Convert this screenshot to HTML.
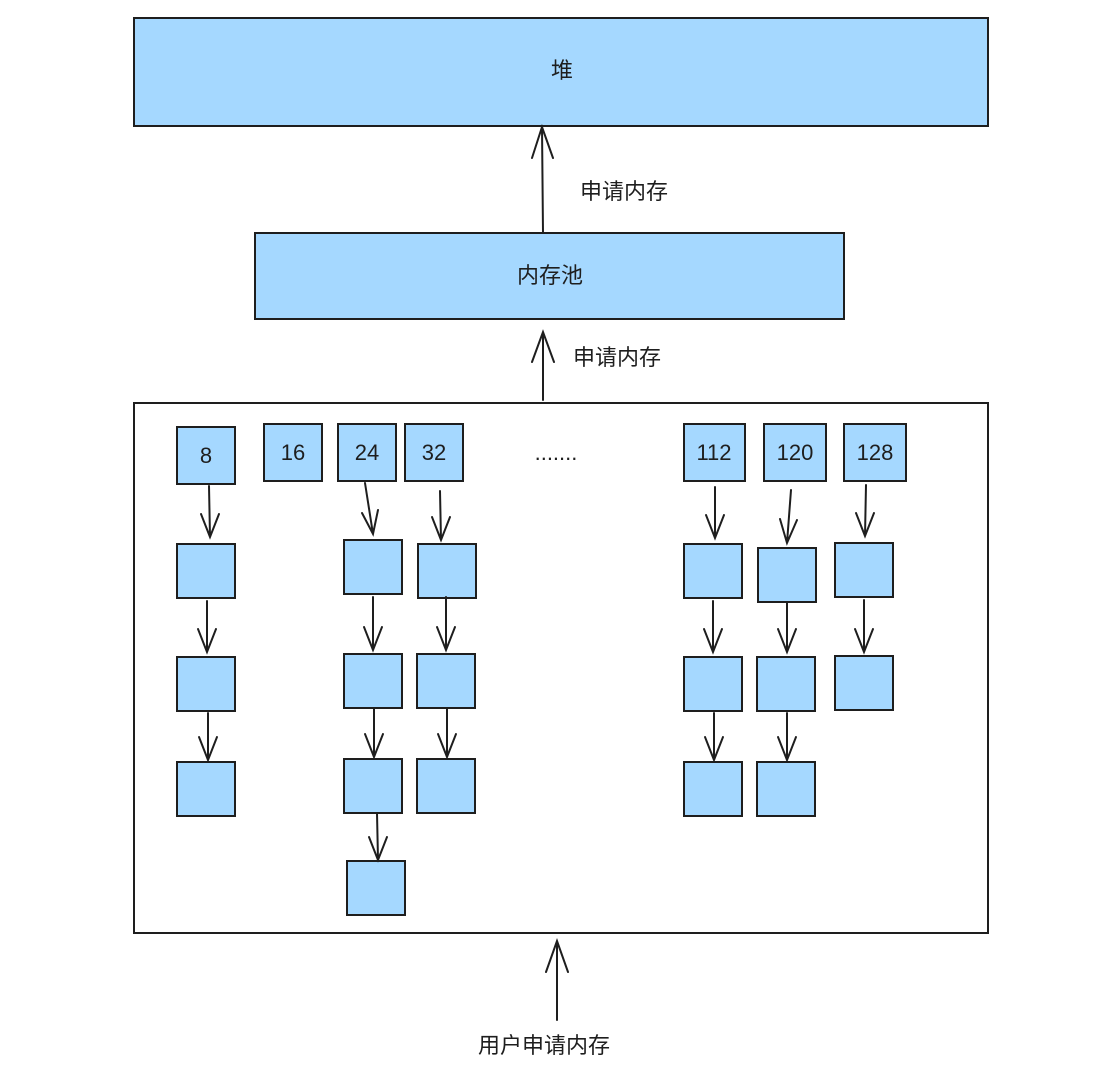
<!DOCTYPE html>
<html><head><meta charset="utf-8"><style>
html,body{margin:0;padding:0;background:#fff;}
svg{display:block;}
text{font-family:"Liberation Sans","Noto Sans CJK SC",sans-serif;fill:#1e1e1e;}
</style></head><body>
<svg width="1110" height="1078" viewBox="0 0 1110 1078" xmlns="http://www.w3.org/2000/svg">
<g stroke="#1e1e1e" stroke-width="2" fill="#a5d8ff">
<rect x="134" y="18" width="854" height="108"/>
<rect x="255" y="233" width="589" height="86"/>
<rect x="134" y="403" width="854" height="530" fill="#fff"/>
<rect x="177" y="427" width="58" height="57"/>
<rect x="264" y="424" width="58" height="57"/>
<rect x="338" y="424" width="58" height="57"/>
<rect x="405" y="424" width="58" height="57"/>
<rect x="684" y="424" width="61" height="57"/>
<rect x="764" y="424" width="62" height="57"/>
<rect x="844" y="424" width="62" height="57"/>
<rect x="177" y="544" width="58" height="54"/>
<rect x="177" y="657" width="58" height="54"/>
<rect x="177" y="762" width="58" height="54"/>
<rect x="344" y="540" width="58" height="54"/>
<rect x="344" y="654" width="58" height="54"/>
<rect x="344" y="759" width="58" height="54"/>
<rect x="347" y="861" width="58" height="54"/>
<rect x="418" y="544" width="58" height="54"/>
<rect x="417" y="654" width="58" height="54"/>
<rect x="417" y="759" width="58" height="54"/>
<rect x="684" y="544" width="58" height="54"/>
<rect x="684" y="657" width="58" height="54"/>
<rect x="684" y="762" width="58" height="54"/>
<rect x="758" y="548" width="58" height="54"/>
<rect x="757" y="657" width="58" height="54"/>
<rect x="757" y="762" width="58" height="54"/>
<rect x="835" y="543" width="58" height="54"/>
<rect x="835" y="656" width="58" height="54"/>
</g>
<g stroke="#1e1e1e" stroke-width="2" fill="none" stroke-linecap="round">
<!-- up arrows -->
<path d="M543 233 L542 127 M532 158 L542 127 L553 158"/>
<path d="M543 400 L543 332 M532 362 L543 332 L554 362"/>
<path d="M557 1020 L557 941 M546 972 L557 941 L568 972"/>
<!-- down arrows -->
<path d="M209 486 L210 537 M201 514 L210 537 L219 514"/>
<path d="M207 601 L207 652 M198 629 L207 652 L216 629"/>
<path d="M208 713 L208 760 M199 737 L208 760 L217 737"/>
<path d="M365 483 L373 534 M362 513 L373 534 L378 510"/>
<path d="M373 597 L373 650 M364 627 L373 650 L382 627"/>
<path d="M374 709 L374 757 M365 734 L374 757 L383 734"/>
<path d="M377 813 L378 860 M369 837 L378 860 L387 837"/>
<path d="M440 491 L441 540 M432 517 L441 540 L450 517"/>
<path d="M446 597 L446 650 M437 627 L446 650 L455 627"/>
<path d="M447 708 L447 757 M438 734 L447 757 L456 734"/>
<path d="M715 487 L715 538 M706 515 L715 538 L724 515"/>
<path d="M713 601 L713 652 M704 629 L713 652 L722 629"/>
<path d="M714 713 L714 760 M705 737 L714 760 L723 737"/>
<path d="M791 490 L787 543 M780 519 L787 543 L797 520"/>
<path d="M787 602 L787 652 M778 629 L787 652 L796 629"/>
<path d="M787 713 L787 760 M778 737 L787 760 L796 737"/>
<path d="M866 485 L865 536 M856 513 L865 536 L874 513"/>
<path d="M864 600 L864 652 M855 629 L864 652 L873 629"/>
</g>
<g font-size="22" text-anchor="middle">
<text x="562" y="78">堆</text>
<text x="550" y="283">内存池</text>
<text x="206" y="463">8</text>
<text x="293" y="460">16</text>
<text x="367" y="460">24</text>
<text x="434" y="460">32</text>
<text x="714" y="460">112</text>
<text x="795" y="460">120</text>
<text x="875" y="460">128</text>
<text x="556" y="460">.......</text>
</g>
<g font-size="22">
<text x="580" y="199">申请内存</text>
<text x="573" y="365">申请内存</text>
<text x="478" y="1053">用户申请内存</text>
</g>
</svg>
</body></html>
